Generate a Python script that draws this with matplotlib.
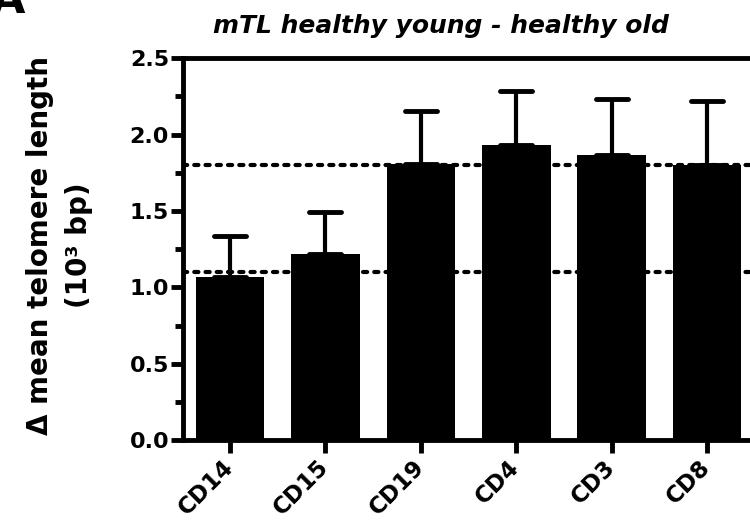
import numpy as np
import matplotlib
matplotlib.use("Agg")
import matplotlib.pyplot as plt
from matplotlib.ticker import MultipleLocator, FormatStrFormatter
from matplotlib.markers import MarkerStyle

cells = ["CD14", "CD15", "CD19", "CD4", "CD3", "CD8"]
mean_diff = [1.07, 1.22, 1.81, 1.93, 1.865, 1.80]
err_upper = [0.265, 0.27, 0.345, 0.355, 0.367, 0.42]
ref_lines = [1.1, 1.8]

plt.rcParams["font.family"] = ["DejaVu Sans"]
plt.rcParams["font.weight"] = "bold"

fig = plt.figure(figsize=(7.5, 5.29), dpi=100)
ax = fig.add_axes([0.244, 0.168, 0.756, 0.722])

x = np.arange(len(cells))
# reference levels
for y in ref_lines:
    ax.axhline(y, color="black", linestyle=(0, (1.0, 1.7)), linewidth=3,
               dash_capstyle="round", zorder=1)

ax.bar(x, mean_diff, width=0.72, color="black", zorder=2)
_, caps, _ = ax.errorbar(x, mean_diff, yerr=[np.zeros(len(cells)), err_upper],
                         fmt="none", ecolor="black", elinewidth=3, capsize=11.5,
                         capthick=3.5, zorder=3)
for c in caps:
    c.set_marker(MarkerStyle("_", capstyle="round"))
    c.set_markersize(23)
    c.set_markeredgewidth(3.5)

ax.set_xlim(-0.493, 5.45)
ax.set_ylim(0, 2.5)
ax.yaxis.set_major_locator(MultipleLocator(0.5))
ax.yaxis.set_minor_locator(MultipleLocator(0.25))
ax.yaxis.set_major_formatter(FormatStrFormatter("%.1f"))
ax.set_xticks(x)
ax.set_xticklabels(cells, rotation=45, ha="right", va="center",
                   rotation_mode="anchor")

for s in ["left", "bottom", "top"]:
    ax.spines[s].set_linewidth(3.5)
ax.spines["right"].set_visible(False)

ax.tick_params(axis="both", which="major", width=3.5, length=9, labelsize=16, pad=1)
ax.tick_params(axis="both", which="minor", width=3.5, length=5.5)
ax.tick_params(axis="x", pad=8, labelsize=16.5)

ax.set_title("mTL healthy young - healthy old", fontsize=18, fontweight="bold",
             style="italic", pad=18, x=0.455)
ax.set_ylabel("\u0394 mean telomere length\n(10\u00b3 bp)", fontsize=20,
              fontweight="bold", linespacing=1.5)
ax.yaxis.set_label_coords(-0.158, 0.51)

fig.text(-0.012, 1 - 13 / 529, "A", fontsize=32, fontweight="bold", va="baseline")

fig.savefig("out.png", dpi=100)
